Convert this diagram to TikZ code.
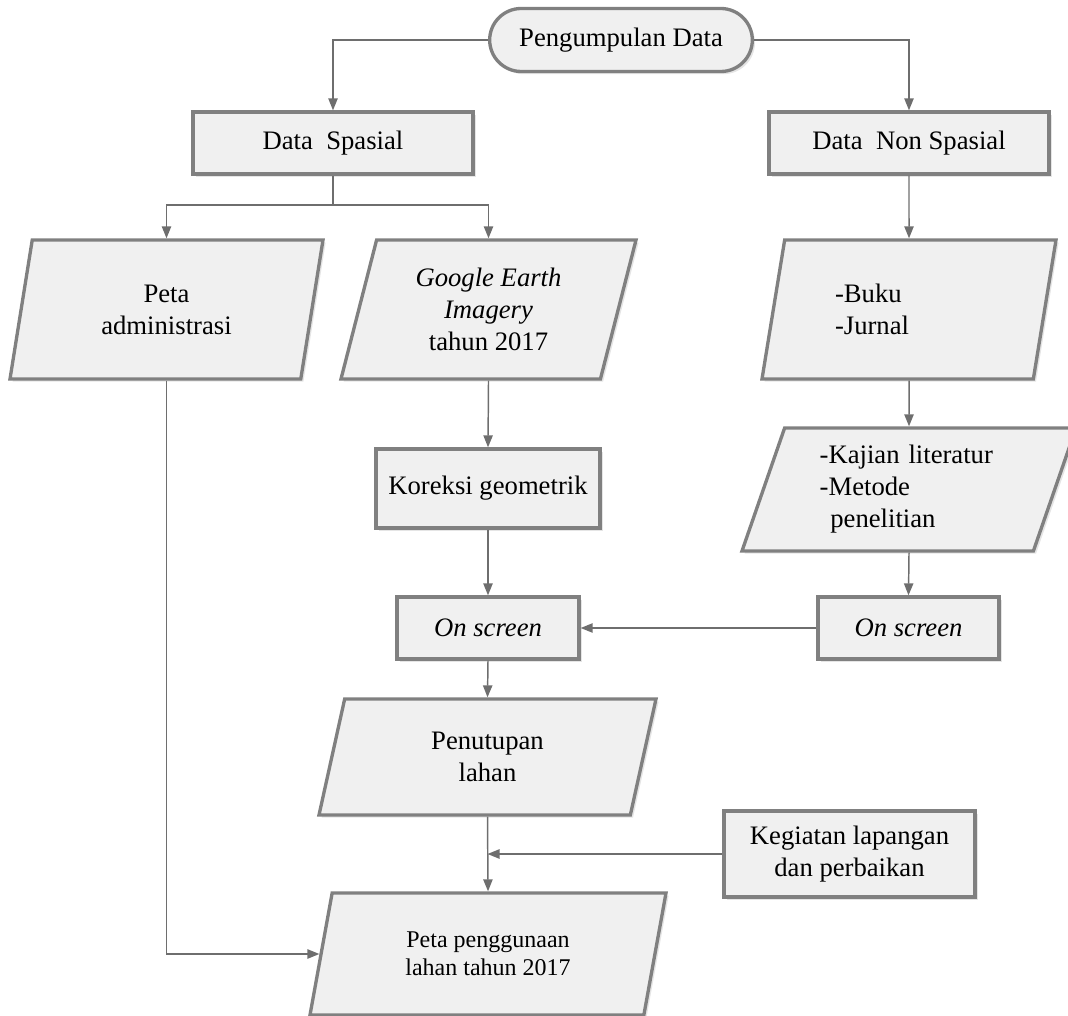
\documentclass[tikz,border=0pt]{standalone}
\usepackage{fontspec}
\setmainfont{Liberation Serif}
\usetikzlibrary{shapes.geometric,shapes.misc,arrows.meta,shadows}
\definecolor{boxfill}{RGB}{240,240,240}
\definecolor{boxline}{RGB}{128,128,128}
\definecolor{arrline}{RGB}{110,110,110}
\tikzset{
  base/.style={draw=boxline, line width=2.5pt, fill=boxfill,
    drop shadow={shadow xshift=2pt, shadow yshift=-2pt, opacity=1, fill=black!10},
    font=\fontsize{20}{24}\selectfont, align=center, inner sep=2pt},
  rbox/.style={base, rectangle},
  term/.style={base, rounded rectangle},
  para/.style={base, trapezium, trapezium left angle=#1, trapezium right angle=180-#1,
    trapezium stretches body=true},
  arr/.style={draw=arrline, line width=1.1pt, -{Triangle[length=9pt,width=7pt]}, color=arrline},
  ln/.style={draw=arrline, line width=1.1pt}
}
\begin{document}
\begin{tikzpicture}[x=0.75pt,y=-0.75pt]
\useasboundingbox (0,0) rectangle (1068,1016);
% nodes
\node[term, minimum width=201pt, minimum height=47.25pt] (term) at (621,40) {Pengumpulan Data};
\node[rbox, minimum width=210pt, minimum height=46.5pt] (ds) at (333,143) {Data~~Spasial};
\node[rbox, minimum width=210pt, minimum height=46.5pt] (dns) at (909,143) {Data~~Non Spasial};
\node[para=68, minimum width=234.75pt, minimum height=104.25pt] (pa) at (166.5,309.5) {Peta\\administrasi};
\node[para=68, minimum width=221.25pt, minimum height=104.25pt] (ge) at (488.5,309.5) {\textit{Google Earth}\\\textit{Imagery}\\tahun 2017};
\node[para=68, minimum width=220.5pt, minimum height=104.25pt, text width=111pt, align=left] (bk) at (909,309.5) {-Buku\\-Jurnal};
\node[rbox, minimum width=168pt, minimum height=59.25pt] (kg) at (488,488.5) {Koreksi geometrik};
\node[para=65.5, minimum width=250.5pt, minimum height=92.25pt, text width=134pt, align=left] (kl) at (909,489.5) {-Kajian literatur\\-Metode\\\hspace*{8pt}penelitian};
\node[rbox, minimum width=136.5pt, minimum height=46.5pt] (os1) at (488,628) {\textit{On screen}};
\node[rbox, minimum width=135.75pt, minimum height=46.5pt] (os2) at (908.5,628) {\textit{On screen}};
\node[para=65, minimum width=252.75pt, minimum height=87pt] (pt) at (487.5,757) {Penutupan\\lahan};
\node[rbox, minimum width=188.25pt, minimum height=64.5pt] (kgl) at (849.5,854) {Kegiatan lapangan\\dan perbaikan};
\node[para=65.8, minimum width=267pt, minimum height=91.5pt, font=\fontsize{18}{21}\selectfont] (pp) at (488,954) {Peta penggunaan\\lahan tahun 2017};
% connectors
\coordinate (br) at (333,205);
\draw[arr] (term.west) -| (ds.north);
\draw[arr] (term.east) -| (dns.north);
\draw[ln] (ds.south) -- (br);
\draw[arr] (br) -| (pa.north);
\draw[arr] (br) -| (ge.north);
\draw[arr] (dns.south) -- (bk.north);
\draw[arr] (ge.south) -- (kg.north);
\draw[arr] (bk.south) -- (kl.north);
\draw[arr] (kg.south) -- (os1.north);
\draw[arr] (kl.south) -- (os2.north);
\draw[arr] (os2.west) -- (os1.east);
\draw[arr] (os1.south) -- (pt.north);
\draw[arr] (pt.south) -- (pp.north);
\draw[arr] (kgl.west) -- (kgl.west -| pt.south);
\draw[arr] (pa.south) |- (pp.west);
\end{tikzpicture}
\end{document}
